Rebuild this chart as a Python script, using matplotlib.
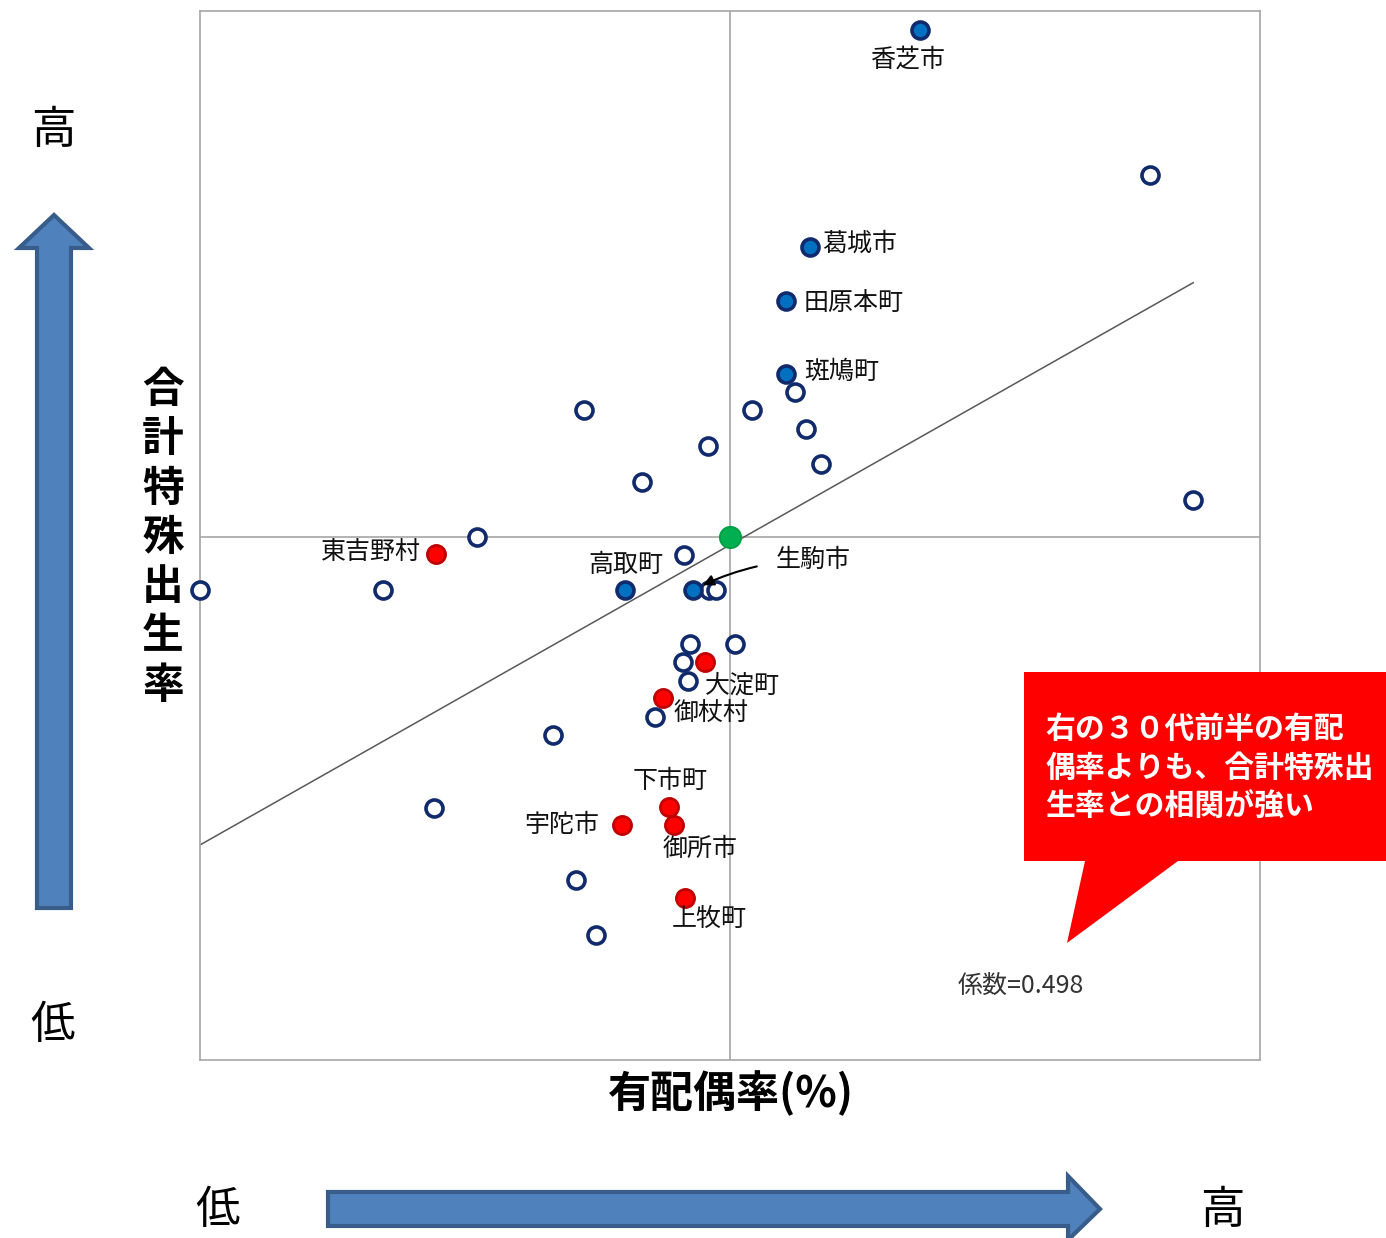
import matplotlib.pyplot as plt
from matplotlib.patches import Polygon

plt.rcParams['font.family'] = ['Noto Sans CJK JP', 'DejaVu Sans']

# values (relative scale 0-100, no ticks shown)
open_x = [89.6, 36.2, 52.1, 56.1, 57.2, 47.9, 58.6, 41.7, 93.7, 26.1, 45.7, 0.0,
          17.3, 48.0, 48.7, 46.2, 50.5, 45.6, 46.0, 42.9, 33.3, 22.1, 35.5, 37.4]
open_y = [84.4, 62.0, 62.0, 63.7, 60.2, 58.5, 56.8, 55.1, 53.4, 49.9, 48.1, 44.8,
          44.8, 44.8, 44.8, 39.7, 39.7, 37.9, 36.1, 32.7, 31.0, 24.0, 17.2, 11.9]

blue_names = ["香芝市", "葛城市", "田原本町", "斑鳩町", "高取町", "生駒市"]
blue_x = [67.9, 57.5, 55.3, 55.3, 40.1, 46.5]
blue_y = [98.2, 77.5, 72.4, 65.4, 44.8, 44.8]

red_names = ["東吉野村", "大淀町", "御杖村", "下市町", "御所市", "宇陀市", "上牧町"]
red_x = [22.3, 47.6, 43.7, 44.2, 44.7, 39.8, 45.8]
red_y = [48.2, 37.9, 34.5, 24.1, 22.4, 22.4, 15.4]

nara_x, nara_y = 50.0, 49.9
trend_x = [0.0, 93.7]
trend_y = [20.5, 74.1]
coef = 0.498

# label offsets in pixels (dx, dy, ha)
label_pos = {
    "香芝市": (-12, -30, "center"), "葛城市": (13, 3, "left"),
    "田原本町": (17, -2, "left"), "斑鳩町": (18, 2, "left"),
    "高取町": (1, 25, "center"), "東吉野村": (-15, 1, "right"),
    "大淀町": (0, -23, "left"), "御杖村": (10, -16, "left"),
    "下市町": (2, 26, "center"), "御所市": (26, -24, "center"),
    "宇陀市": (-23, 0, "right"), "上牧町": (-14, -20, "left"),
}

fig = plt.figure(figsize=(13.86, 12.38), dpi=100)
ax = fig.add_axes([200 / 1386, 178 / 1238, 1060 / 1386, 1049 / 1238])
ax.set_xlim(0, 100)
ax.set_ylim(0, 100)
ax.set_xticks([])
ax.set_yticks([])
for sp in ax.spines.values():
    sp.set_color("#a6a6a6")
    sp.set_linewidth(1.2)

ax.axvline(nara_x, color="#a6a6a6", lw=1.2, zorder=1)
ax.axhline(nara_y, color="#a6a6a6", lw=1.2, zorder=1)
ax.plot(trend_x, trend_y, color="#595959", lw=1.1, zorder=2)

navy = "#102a6b"
ax.scatter(open_x, open_y, s=150, facecolor="white", edgecolor=navy, linewidth=2.6,
           zorder=3, clip_on=False)
ax.scatter(blue_x, blue_y, s=150, facecolor="#0070c0", edgecolor=navy, linewidth=2.6,
           zorder=4, clip_on=False)
ax.scatter(red_x, red_y, s=170, facecolor="#ff0000", edgecolor="#c00000", linewidth=2.0,
           zorder=4)
ax.scatter([nara_x], [nara_y], s=230, facecolor="#00b050", edgecolor="#00a048",
           linewidth=1.5, zorder=5)

for names, xs, ys in [(blue_names, blue_x, blue_y), (red_names, red_x, red_y)]:
    for n, x, y in zip(names, xs, ys):
        if n in label_pos:
            dx, dy, ha = label_pos[n]
            ax.annotate(n, (x, y), xytext=(dx, dy), textcoords="offset pixels",
                        ha=ha, va="center", fontsize=18, color="#111111", zorder=6)

# 生駒市 with arrow
i = blue_names.index("生駒市")
ax.annotate("生駒市", (blue_x[i], blue_y[i]), xytext=(83, 30), textcoords="offset pixels",
            ha="left", va="center", fontsize=18, color="#111111", zorder=6,
            arrowprops=dict(arrowstyle="-|>", color="black", lw=1.5, shrinkA=12, shrinkB=8,
                            mutation_scale=16, connectionstyle="arc3,rad=0.08",
                            relpos=(0, 0.4)))

ax.text(0.715, 0.071, f"係数={coef}", transform=ax.transAxes, fontsize=18,
        color="#333333", ha="left", va="center")

# overlay in pixel coordinates for arrows, callout and side labels
ov = fig.add_axes([0, 0, 1, 1], zorder=10)
ov.set_xlim(0, 1386)
ov.set_ylim(1238, 0)
ov.axis("off")
ov.patch.set_alpha(0)

arrow_fc = "#4f81bd"
arrow_ec = "#385d8a"
up = [(37, 908), (71, 908), (71, 248), (89, 248), (54, 215), (19, 248), (37, 248)]
ov.add_patch(Polygon(up, closed=True, fc=arrow_fc, ec=arrow_ec, lw=3))
right = [(328, 1192), (1068, 1192), (1068, 1176), (1100, 1209), (1068, 1240),
         (1068, 1226), (328, 1226)]
ov.add_patch(Polygon(right, closed=True, fc=arrow_fc, ec=arrow_ec, lw=3, clip_on=False))

ov.text(53, 130, "高", fontsize=32, ha="center", va="center")
ov.text(53, 1025, "低", fontsize=32, ha="center", va="center")
ov.text(218, 1210, "低", fontsize=32, ha="center", va="center")
ov.text(1222, 1210, "高", fontsize=32, ha="center", va="center")

ov.text(163, 538, "\n".join("合計特殊出生率"), fontsize=30, fontweight="bold",
        ha="center", va="center", linespacing=1.22)
ov.text(731, 1093, "有配偶率(%)", fontsize=31, fontweight="bold", ha="center", va="center")

# callout
callout = [(1024, 672), (1386, 672), (1386, 861), (1178, 861), (1067, 943),
           (1085, 861), (1024, 861)]
ov.add_patch(Polygon(callout, closed=True, fc="#ff0000", ec="none"))
ov.text(1045, 768, "右の３０代前半の有配\n偶率よりも、合計特殊出\n生率との相関が強い",
        fontsize=21.5, fontweight="bold", color="white", ha="left", va="center",
        linespacing=1.38)

fig.savefig("out.png", dpi=100)
